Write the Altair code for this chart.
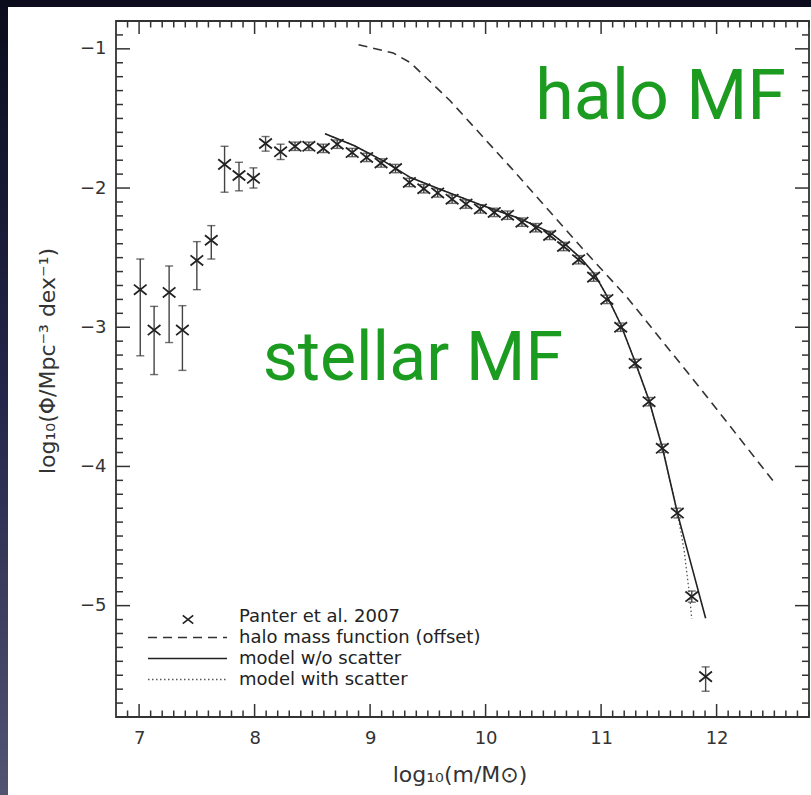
import altair as alt
import pandas as pd

# ---- Panter et al. 2007 stellar mass function (log10 m, log10 Phi, error range)
panter_logm = [7.01, 7.13, 7.26, 7.375, 7.50, 7.625, 7.74, 7.865, 7.99, 8.095,
               8.225, 8.35, 8.47, 8.595, 8.715, 8.845, 8.97, 9.095, 9.22, 9.34,
               9.465, 9.585, 9.71, 9.83, 9.955, 10.075, 10.19, 10.315, 10.435, 10.555,
               10.675, 10.805, 10.935, 11.05, 11.17, 11.295, 11.415, 11.53, 11.66, 11.785,
               11.905]
panter_phi = [-2.73, -3.02, -2.75, -3.02, -2.52, -2.375, -1.83, -1.91, -1.93, -1.68,
              -1.74, -1.70, -1.70, -1.715, -1.685, -1.745, -1.78, -1.82, -1.86, -1.96,
              -2.005, -2.035, -2.08, -2.115, -2.15, -2.175, -2.195, -2.245, -2.285, -2.34,
              -2.42, -2.515, -2.64, -2.80, -3.00, -3.26, -3.535, -3.87, -4.335, -4.935,
              -5.51]
panter_hi = [-2.51, -2.85, -2.56, -2.845, -2.385, -2.27, -1.70, -1.815, -1.855, -1.63,
             -1.685, -1.67, -1.67, -1.685, -1.655, -1.715, -1.75, -1.79, -1.83, -1.93,
             -1.975, -2.005, -2.05, -2.085, -2.12, -2.145, -2.165, -2.215, -2.255, -2.31,
             -2.39, -2.485, -2.61, -2.77, -2.97, -3.23, -3.505, -3.84, -4.30, -4.895,
             -5.44]
panter_lo = [-3.205, -3.34, -3.11, -3.31, -2.73, -2.51, -2.03, -2.02, -2.00, -1.735,
             -1.795, -1.73, -1.73, -1.745, -1.715, -1.775, -1.81, -1.85, -1.89, -1.99,
             -2.035, -2.065, -2.11, -2.145, -2.18, -2.205, -2.225, -2.275, -2.315, -2.37,
             -2.45, -2.545, -2.67, -2.83, -3.03, -3.29, -3.565, -3.90, -4.37, -4.975,
             -5.615]

# ---- halo mass function (offset)
halo_logm = [8.90, 9.20, 9.35, 9.695, 10.215, 10.845, 11.225, 11.855, 12.50]
halo_phi = [-0.97, -1.03, -1.10, -1.375, -1.85, -2.44, -2.785, -3.435, -4.115]

# ---- model without scatter
model_logm = [8.61, 8.86, 9.115, 9.35, 9.61, 9.955, 10.30, 10.56, 10.69, 10.82,
              10.945, 11.05, 11.17, 11.295, 11.415, 11.535, 11.665, 11.785, 11.905]
model_phi = [-1.61, -1.695, -1.805, -1.925, -2.01, -2.12, -2.22, -2.32, -2.405, -2.50,
             -2.62, -2.775, -2.98, -3.25, -3.525, -3.88, -4.35, -4.72, -5.09]

# ---- model with scatter
scat_logm = [8.61, 8.86, 9.115, 9.35, 9.61, 9.955, 10.30, 10.56, 10.69, 10.82,
             10.945, 11.05, 11.17, 11.295, 11.415, 11.535, 11.665, 11.72, 11.765, 11.785]
scat_phi = [-1.61, -1.695, -1.805, -1.925, -2.01, -2.12, -2.22, -2.32, -2.405, -2.50,
            -2.62, -2.775, -2.98, -3.25, -3.525, -3.88, -4.35, -4.61, -4.92, -5.095]

# ---- axes
x_major = [7, 8, 9, 10, 11, 12]
y_major = [-5, -4, -3, -2, -1]
x_minor = [v / 10 for v in range(69, 129) if v % 10 != 0]
y_minor = [-v / 10 for v in range(9, 58) if v % 10 != 0]

# ---- annotations and legend
halo_text, halo_x, halo_y = "halo MF", 10.43, -1.505
stellar_text, stellar_x, stellar_y = "stellar MF", 8.07, -3.38
legend_labels = ["Panter et al. 2007", "halo mass function (offset)",
                 "model w/o scatter", "model with scatter"]

W, H = 693, 696
FONT = "DejaVu Sans"
INK = "#222222"
GREEN = "#1b9c20"
XSHAPE = "M-1,-0.8L1,0.8M-1,0.8L1,-0.8"

xscale = alt.Scale(domain=[6.8, 12.8], nice=False, zero=False)
yscale = alt.Scale(domain=[-5.8, -0.8], nice=False, zero=False)
xaxis = alt.Axis(values=x_major, ticks=False, domain=False, grid=False, title=None,
                 labelFont=FONT, labelFontSize=18, labelColor="#333333",
                 labelPadding=12, labelFlush=False, zindex=1)
yaxis = alt.Axis(values=y_major, ticks=False, domain=False, grid=False, title=None,
                 labelFont=FONT, labelFontSize=18, labelColor="#333333",
                 labelPadding=10, format="d", zindex=1)


def X(field):
    return alt.X(field, type="quantitative", scale=xscale, axis=xaxis)


def Y(field):
    return alt.Y(field, type="quantitative", scale=yscale, axis=yaxis)


one = pd.DataFrame({"k": [0]})

pts = pd.DataFrame({"m": panter_logm, "phi": panter_phi, "lo": panter_lo, "hi": panter_hi})
halo = pd.DataFrame({"m": halo_logm, "phi": halo_phi})
model = pd.DataFrame({"m": model_logm, "phi": model_phi})
scat = pd.DataFrame({"m": scat_logm, "phi": scat_phi})

# page background and white slide panel
backdrop = alt.Chart(one).mark_rect(
    color=alt.Gradient(gradient="linear",
                       stops=[alt.GradientStop(color="#0b0d1d", offset=0),
                              alt.GradientStop(color="#23264a", offset=0.5),
                              alt.GradientStop(color="#535372", offset=1)],
                       x1=0, x2=0, y1=0, y2=1)
).encode(x=alt.value(-116), x2=alt.value(W + 2), y=alt.value(-21), y2=alt.value(H + 78))
panel = alt.Chart(one).mark_rect(color="white").encode(
    x=alt.value(-108), x2=alt.value(W + 2), y=alt.value(-14), y2=alt.value(H + 78))

halo_line = alt.Chart(halo).mark_line(color="#333333", strokeWidth=1.6, strokeDash=[9, 6]).encode(
    x=X("m"), y=Y("phi"), order="m:Q")
scat_line = alt.Chart(scat).mark_line(color="#555555", strokeWidth=1.3, strokeDash=[1.5, 2.5]).encode(
    x=X("m"), y=Y("phi"), order="m:Q")
model_line = alt.Chart(model).mark_line(color=INK, strokeWidth=1.6).encode(
    x=X("m"), y=Y("phi"), order="m:Q")

err = alt.Chart(pts).mark_rule(color="#444444", strokeWidth=1.4).encode(
    x=X("m"), y=Y("lo"), y2="hi")
cap_lo = alt.Chart(pts).mark_tick(orient="horizontal", color="#333333", size=8, thickness=1.4).encode(
    x=X("m"), y=Y("lo"))
cap_hi = alt.Chart(pts).mark_tick(orient="horizontal", color="#333333", size=8, thickness=1.4).encode(
    x=X("m"), y=Y("hi"))
marks = alt.Chart(pts).mark_point(shape=XSHAPE, filled=False, color=INK, strokeWidth=1.8, size=160,
                                  opacity=1).encode(x=X("m"), y=Y("phi"))

# inward ticks on all four sides
xmaj = pd.DataFrame({"v": x_major})
xmin = pd.DataFrame({"v": x_minor})
ymaj = pd.DataFrame({"v": y_major})
ymin = pd.DataFrame({"v": y_minor})
tick_layers = []
for df, L in ((xmaj, 13), (xmin, 6.5)):
    tick_layers.append(alt.Chart(df).mark_rule(color="#333333", strokeWidth=1.5).encode(
        x=X("v"), y=alt.value(H), y2=alt.value(H - L)))
    tick_layers.append(alt.Chart(df).mark_rule(color="#333333", strokeWidth=1.5).encode(
        x=X("v"), y=alt.value(0), y2=alt.value(L)))
for df, L in ((ymaj, 14), (ymin, 7)):
    tick_layers.append(alt.Chart(df).mark_rule(color="#333333", strokeWidth=1.5).encode(
        y=Y("v"), x=alt.value(0), x2=alt.value(L)))
    tick_layers.append(alt.Chart(df).mark_rule(color="#333333", strokeWidth=1.5).encode(
        y=Y("v"), x=alt.value(W), x2=alt.value(W - L)))

frame = alt.Chart(one).mark_rect(fill=None, stroke="#333333", strokeWidth=1.8).encode(
    x=alt.value(0), x2=alt.value(W), y=alt.value(0), y2=alt.value(H))

# legend
LX0, LX1, LT = 32, 111, 123
LY = [595.5, 616.5, 637.5, 658.5]
leg = [
    alt.Chart(one).mark_point(shape=XSHAPE, filled=False, color=INK, strokeWidth=1.6, size=110,
                              opacity=1).encode(x=alt.value(72), y=alt.value(LY[0] + 3)),
    alt.Chart(one).mark_rule(color="#333333", strokeWidth=1.6, strokeDash=[9, 6]).encode(
        x=alt.value(LX0), x2=alt.value(LX1), y=alt.value(LY[1])),
    alt.Chart(one).mark_rule(color=INK, strokeWidth=1.6).encode(
        x=alt.value(LX0), x2=alt.value(LX1), y=alt.value(LY[2])),
    alt.Chart(one).mark_rule(color="#555555", strokeWidth=1.3, strokeDash=[1.5, 2.5]).encode(
        x=alt.value(LX0), x2=alt.value(LX1), y=alt.value(LY[3])),
]
for lab, ly in zip(legend_labels, LY):
    leg.append(alt.Chart(one).mark_text(text=lab, font=FONT, fontSize=18, color=INK,
                                        align="left", baseline="middle").encode(
        x=alt.value(LT), y=alt.value(ly)))

halo_lbl = alt.Chart(pd.DataFrame({"t": [halo_text], "m": [halo_x], "phi": [halo_y]})).mark_text(
    font="Roboto", fontSize=70, color=GREEN, align="left", baseline="alphabetic").encode(
    x=X("m"), y=Y("phi"), text="t:N")
stellar_lbl = alt.Chart(pd.DataFrame({"t": [stellar_text], "m": [stellar_x], "phi": [stellar_y]})).mark_text(
    font="Roboto", fontSize=68, color=GREEN, align="left", baseline="alphabetic").encode(
    x=X("m"), y=Y("phi"), text="t:N")

xtitle = alt.Chart(one).mark_text(text="log₁₀(m/M⊙)", font=FONT, fontSize=22, color="#333333",
                                  align="center", baseline="middle").encode(
    x=alt.value(344), y=alt.value(754))
ytitle = alt.Chart(one).mark_text(text="log₁₀(Φ/Mpc⁻³ dex⁻¹)", font=FONT, fontSize=22, color="#333333",
                                  align="center", baseline="middle", angle=270).encode(
    x=alt.value(-68), y=alt.value(340))

chart = alt.layer(
    backdrop, panel, halo_line, scat_line, model_line, err, cap_lo, cap_hi, marks,
    *tick_layers, frame, *leg, halo_lbl, stellar_lbl, xtitle, ytitle
).properties(
    width=W, height=H,
    autosize=alt.AutoSizeParams(type="none"),
    padding={"left": 116, "top": 21, "right": 2, "bottom": 78},
    background="#0b0d1d",
).configure_view(stroke=None)

chart.save("out.html", embed_options={"renderer": "svg", "actions": False})
